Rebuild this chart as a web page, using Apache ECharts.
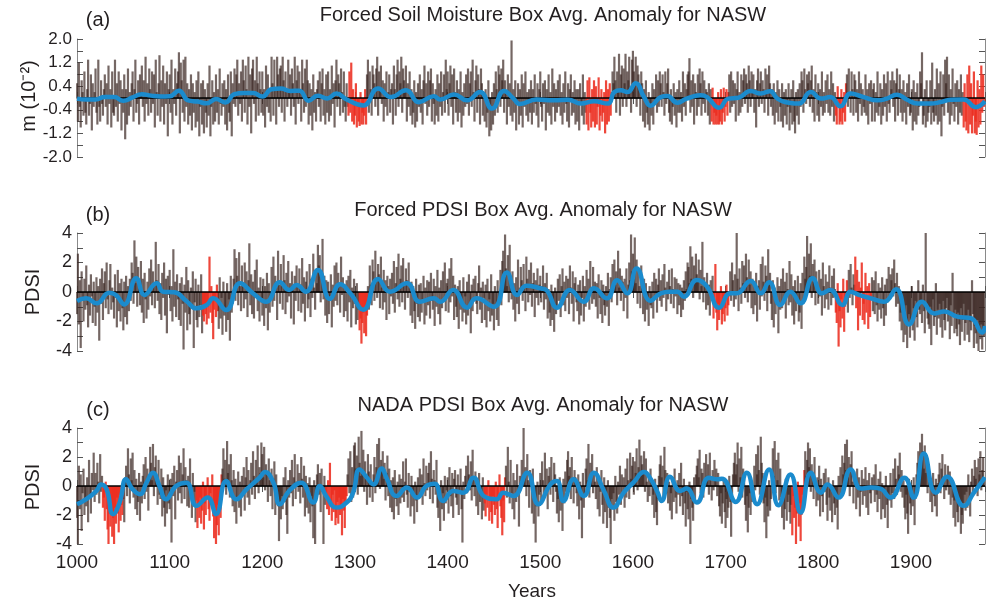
<!DOCTYPE html>
<html><head><meta charset="utf-8">
<script src="https://cdn.jsdelivr.net/npm/echarts@6/dist/echarts.min.js"></script>
<style>html,body{margin:0;padding:0;background:#fff}#c{width:986px;height:603px}</style>
</head><body><div id="c"></div>
<script>
const START_YEAR = 1000;
const END_YEAR = 1980;
const xTickLabels = [1000,1100,1200,1300,1400,1500,1600,1700,1800,1900];

// (a) Forced soil moisture anomaly, annual (10^-2 m)
const soilA = [
.5,-.8,1.2,-.3,-1.0,.6,.2,-.6,.9,-.5,
-.9,.3,1.3,-.6,-.2,.8,-1.1,.5,-.3,.2,
1.0,-.5,-.9,1.3,-.3,-.8,.6,-.2,-.6,.3,
.8,-.3,.5,-.9,1.1,-.2,.3,-1.0,.9,-.5,
-.6,1.3,-.3,.5,-.8,.9,-.2,.6,-1.1,.3,
-.5,.8,-1.4,.3,-.9,1.0,-.6,.2,-.3,.5,
.9,-.8,.3,1.3,-.5,-.2,.6,-.9,.8,.2,
1.1,-.3,.6,-.8,1.4,-.2,.5,-.6,1.0,.3,
-.5,.9,-.2,.8,-1.0,1.3,.2,-.6,.5,1.45,
-.8,.6,-.3,1.1,-.9,.5,-.2,.9,-1.3,.3,
.8,-.5,1.3,-.9,.3,-.2,1.0,-.6,.5,.9,
1.55,-1.2,1.2,.6,-.5,1.3,-.8,1.4,-.3,.5,
-.9,.3,-.6,.8,-1.1,.5,-.5,.2,-1.0,.6,
-.8,.9,-1.3,-.3,.5,-.9,.6,-1.2,.3,-.5,
-1.0,.5,-.6,1.1,-1.3,-.3,.6,-.9,.2,-.8,
.8,-.5,.3,-.9,1.0,-.2,-.6,.5,-.3,.6,
-.9,.3,-1.1,.8,-.5,-.8,.9,-1.3,.5,-.2,
1.0,-.3,.8,1.3,-.6,.5,-.2,.9,-.8,1.3,
.6,-.5,1.1,.3,-.9,1.4,-.3,.8,-1.2,1.0,
1.3,-.2,.6,-.8,1.4,.5,-.6,.9,.3,-.5,
.9,-.6,.3,-1.0,1.1,-.3,.8,-.5,.2,-.8,
1.4,.5,-.6,1.3,.3,-.9,1.4,.8,-.3,1.0,
1.1,-.5,1.4,.6,-.8,.9,.3,-.3,1.3,.2,
.8,-.6,1.0,.5,-.3,1.4,-.9,.6,1.1,-.2,
.9,.3,-.8,1.3,.5,-.5,1.0,-.3,1.3,.6,
-.9,.5,-.6,.3,-1.1,.8,-.5,.2,-.8,.3,
.6,-.3,.9,-.8,.5,1.0,-.6,.3,-.9,.8,
-.5,.9,-.8,.3,-.6,1.1,-.2,.5,-1.0,.6,
1.3,-.3,.8,.5,-.6,1.0,.2,-.5,.9,-.3,
-.8,.5,-.3,-.6,.9,-.5,1.2,-.8,.3,-.9,
-.6,.5,-1.0,-.3,-.8,-.95,.2,-.9,-.5,-.9,
-.6,.3,-.9,.8,1.3,-.5,.9,.3,-.6,1.1,
.8,.5,-.3,1.0,1.4,-.6,.9,.3,1.1,-.2,
.6,-.8,.5,-.3,.9,-.6,.2,.8,-.5,.3,
.5,-.9,1.1,.3,-.6,.8,1.3,-.3,.9,.5,
1.4,-.5,1.0,.6,.3,1.1,-.8,.5,-.3,.9,
-.6,.3,-.9,-.5,.6,-1.0,.2,-.8,.5,-.3,
.8,-.5,.3,-.9,.6,1.1,-.2,.5,-.6,.9,
-.3,.6,1.0,-.8,.5,-.2,-.9,.3,-.6,.8,
-.8,.5,-.3,.9,-.6,.2,.8,-.5,1.3,.3,
.9,-.6,.5,1.1,-.3,.8,-.9,1.0,.2,-.5,
.6,-.8,.3,-.5,.9,-1.0,.2,-.6,.5,-.3,
.8,-.2,1.0,-.6,.5,.9,-.3,1.3,.2,-.8,
.6,1.1,-.5,.8,.3,-.9,1.0,.5,-.6,.2,
-.8,.3,-1.0,-.5,.6,-1.3,-.3,-1.1,.2,-.9,
.5,-.6,.9,.3,-.5,1.1,.8,-.3,1.0,.6,
1.3,-.5,.6,.2,-.9,.8,-.3,.5,-.6,1.95,
-.8,.3,-.5,.6,-1.1,-.2,.5,-.9,.3,-.6,
.8,-1.0,.5,-.3,.9,-.6,.2,-.8,.3,-.5,
.6,-.9,.3,-.5,.8,-.2,-.6,.5,-1.0,.3,
.9,-.3,-.8,.5,-.2,.6,-1.1,.3,-.5,.8,
-.6,.2,-.9,1.0,-.3,.5,-.8,.3,-.5,.6,
-.3,.8,-.6,.2,-.9,.5,-.5,.9,-.2,-.8,
.5,-1.0,.3,.8,-.6,.2,-.5,.6,-.9,.3,
-.8,.3,-1.1,.5,-.2,-.6,.8,-.9,.2,-.5,
-.9,.6,-1.1,.7,-.5,-1.0,.3,-.8,.6,-1.0,
.4,-.9,-.3,.7,-1.1,-.6,.3,-.8,-.5,.2,
-1.2,.6,-.9,.3,-.8,.5,-.6,.2,.9,.5,
1.4,.6,-.5,.9,.3,1.5,-.6,.8,1.1,-.3,
1.0,.5,1.5,-.3,.9,.6,1.4,.3,-.5,1.3,
1.6,.9,.5,1.4,-.3,1.1,.8,.3,-.6,.9,
.5,-.8,.3,-1.0,.6,-.5,-.9,.2,-1.1,-.3,
-.6,.5,-.9,.3,-.2,.8,-.5,.6,-.3,.9,
.5,-.3,.8,.2,-.6,.9,-.2,.5,1.0,-.5,
-.8,.3,-.9,-.3,.5,-.6,.2,-1.0,.3,-.5,
.6,-.5,.2,-.8,.9,-.3,.5,-.6,.3,.8,
.9,1.35,-.5,.6,-.3,.8,-.9,.5,.2,-.6,
.8,-.3,1.0,.5,-.6,.9,-.2,.6,-.5,.3,
.2,-.6,.5,-.9,.3,-.8,.35,-.9,-.5,-.9,
-.6,-.9,.2,-.9,-.8,.3,-.9,-.5,.35,-.8,
-.3,.3,-.6,.2,.8,-.5,.9,-.3,.6,-.2,
.5,-.8,.3,.9,-.6,.2,-.5,.8,-.3,.6,
1.0,-.2,.8,.5,-.5,1.1,.6,-.3,.9,.3,
.8,-.5,.3,-1.0,.6,1.0,-.3,.5,.9,-.2,
.6,.3,-.5,1.0,.2,.8,-.6,1.1,.5,-.3,
.3,-.6,.5,-.9,.2,-.5,.6,-.8,.3,-.3,
-.8,.5,-1.0,.2,-.6,.3,-.9,-.3,.5,-1.1,
-.5,.3,-.9,.6,-.8,-1.2,.2,-.6,.3,-.9,
.5,-.3,.9,.6,-.5,1.0,.3,-.2,.8,.5,
.9,-.3,.6,1.1,-.5,.3,-.8,.8,.2,-.6,
.5,-.8,.3,-.3,.9,-.6,.2,-.5,.6,-.2,
.8,-.5,.3,-.6,.9,-.3,.5,-.8,.2,-.6,
-.9,.4,-.3,-.9,-.8,.3,-.9,-.5,.2,-.8,
.5,.8,-.3,1.0,.2,-.5,.9,.3,-.6,.8,
.6,-.5,.3,-.8,.9,-.2,.5,-.6,.3,-.3,
-.5,.8,-.6,.3,-.9,.5,-.2,.6,-.8,.3,
.5,-.8,.2,-.5,.9,-.6,-.3,.5,-.9,.3,
-.6,.8,-.3,.5,-.8,.9,-.2,-.5,.6,.3,
.9,-.3,.6,-.8,.5,1.0,-.6,.3,.8,-.5,
.3,-.8,.6,-.5,.2,-.9,.5,-.3,.8,-.6,
-.5,.3,-1.1,.6,-.8,.2,-.9,.5,-.6,-.3,
.9,.5,1.55,-.9,-.6,.3,-1.0,.6,-.8,-.5,
-.3,.6,-.9,1.2,-.5,-.8,.3,-.6,1.0,-.9,
.5,-.8,.9,-1.3,-.3,.8,-.6,1.3,.5,1.4,
-.5,.8,-.9,.3,-.6,1.0,-.2,-.8,.5,-.3,
.6,-.9,.3,-.5,.8,-.6,.2,-1.0,.5,-.8,
-1.1,.8,-1.2,1.1,-.9,.5,-1.2,-.6,.9,-1.2,
-.8,-1.25,.6,-1.0,.3,-.9,1.1,-.5,.8,-.3
];

// (b) Forced PDSI anomaly, annual
const pdsiB = [
-1.5,2.6,-2.2,.8,-3.8,1.4,-.6,-2.0,.9,-1.2,
1.8,-.9,-2.4,.5,-1.6,1.2,-.3,-2.1,.7,-1.0,
-2.3,1.0,-1.4,.4,-3.3,.9,-.8,1.6,-1.9,.6,
1.4,-1.1,2.0,-.5,-1.5,.8,1.9,-1.2,.3,-.7,
-1.8,1.2,-.4,-2.4,1.5,-1.3,.6,-2.0,.9,-1.1,
-2.6,.7,-1.7,1.1,-2.2,.4,-1.3,.9,-.6,2.0,
1.3,-.8,3.5,.6,2.4,-1.0,1.7,.3,-.9,2.1,
-1.4,.9,-2.1,1.3,-.5,-1.8,.7,-1.2,1.6,-.3,
2.2,-.9,1.4,.5,-1.1,3.4,.8,-.6,1.9,-1.5,
.6,-1.9,1.3,-.4,2.0,-1.6,.9,-2.8,1.1,-.2,
1.5,-1.3,.4,-2.0,2.9,-1.0,.7,-1.7,1.2,-.5,
-1.9,.6,-2.3,1.0,-.8,-3.9,.5,-1.4,1.7,-2.6,
.8,-1.5,-2.2,.3,-1.1,1.4,-3.8,-.7,.9,-1.9,
-2.4,.5,-1.7,-.9,1.2,-2.8,-1.6,-2.0,-.8,-1.5,
-2.2,-1.0,-1.8,2.4,-1.4,.4,-2.1,-3.2,-1.2,-.6,
-1.7,.5,-1.3,-2.5,1.0,-1.8,-.4,-2.9,.7,-1.6,
-1.2,-2.7,.6,-1.9,-.5,-3.3,1.1,-1.4,-.8,.9,
2.9,-.6,2.3,1.1,-.9,2.7,.4,-1.3,1.8,.6,
-1.1,2.0,-.5,1.4,-1.7,.8,3.3,-.9,1.2,-1.5,
.7,-1.8,1.5,-.4,2.2,-1.3,.3,-2.0,1.0,-.7,
-1.6,.9,-2.3,.4,-1.1,1.3,-2.6,.6,-1.4,-.3,
1.7,-1.0,2.4,-.6,1.1,.3,-1.9,2.8,.5,-.8,
1.9,.4,-1.2,2.5,.8,-1.5,1.3,-.7,2.1,-.3,
.6,-1.8,1.4,.2,-2.2,1.1,-.6,1.8,.4,-1.3,
1.6,.5,-1.4,2.3,-.8,1.0,-2.0,.7,1.4,-1.1,
-.5,1.9,-1.7,.9,-.4,2.6,.3,-1.2,1.5,.6,
3.2,1.8,2.5,-.7,1.4,3.6,-.5,1.1,-1.6,.8,
-2.1,.7,-1.5,-.3,1.2,-2.4,.5,-1.0,1.8,-.6,
2.0,-.9,1.3,.6,-1.4,2.4,-.2,1.0,-1.7,.5,
-1.3,.8,-2.0,1.1,-.7,1.5,-2.4,.3,-1.1,.9,
-.8,-2.2,.6,-1.9,-1.2,-2.6,-1.8,-3.5,-2.1,-1.4,
-2.8,-1.0,-3.0,-1.6,.4,-1.2,1.8,.5,-.9,2.2,
1.4,-.6,2.8,.9,-.4,1.9,1.2,-1.1,2.4,.3,
-1.2,1.5,-.7,.8,-1.9,1.1,.4,-1.5,.9,-.3,
1.3,-.8,2.1,-1.4,.6,1.7,-.5,2.6,-1.0,.9,
1.8,-.7,2.3,.5,-1.2,1.6,.8,-.4,2.0,.3,
-1.6,.7,-2.1,.4,-1.3,-2.5,.9,-.8,-1.7,.5,
-2.0,.6,-1.4,-.5,1.1,-2.2,.3,-1.6,.8,-.9,
.7,-1.8,1.3,-.6,-1.2,.9,-2.3,.4,-1.0,1.5,
-1.5,.3,-2.2,.8,-1.1,1.4,-.4,2.0,-1.3,.6,
.9,-1.4,1.6,-.7,2.3,-.3,1.1,-1.9,.5,-1.0,
-1.7,.4,-2.5,.8,-1.2,-.6,-2.0,1.0,-1.4,-.3,
-2.2,.7,-1.6,1.2,-.9,-2.8,.5,-1.3,.9,-.6,
1.1,-.8,-1.5,.6,1.8,-1.2,.3,-2.1,.7,-.4,
-1.9,.5,-2.4,.9,-1.3,-.5,-2.0,1.2,-1.6,-.8,
-2.6,.4,-1.1,-1.9,.8,-2.3,-.6,1.5,-.9,2.1,
2.8,.9,3.9,1.6,.4,2.5,-.7,3.2,1.1,-.5,
1.4,-1.2,.6,-2.0,1.0,-.8,2.2,-1.5,.3,1.7,
.8,-.6,1.9,.4,-1.3,2.4,.9,-.7,1.5,-.2,
2.0,-1.0,.6,1.3,-1.7,.8,-.4,1.6,-.9,.5,
1.1,-.7,.4,1.8,-1.2,.6,-.5,1.3,-1.8,.2,
-1.4,-2.3,.5,-1.9,-.8,-2.7,.3,-1.5,-1.0,.9,
-.6,1.2,-1.7,.4,1.6,-.9,.7,-1.3,1.1,-.4,
.9,-1.5,1.8,.3,-.8,1.4,-2.0,.6,1.0,-.7,
-1.3,.5,-2.2,.8,-1.6,-.4,1.1,-2.0,.4,-1.0,
1.5,-.6,.9,-1.2,2.1,.3,-.8,1.7,-.5,.7,
-1.0,.6,-1.8,1.2,-.4,-1.5,.8,-2.1,.5,-.9,
-1.6,.4,-1.0,1.3,-2.3,.2,1.0,-.7,1.9,.6,
2.2,.5,1.4,-.9,2.8,.3,1.6,-.6,1.1,.7,
-1.3,.9,-.4,1.6,-1.8,.5,2.0,.8,3.9,1.4,
2.6,1.1,3.7,.6,2.2,-.8,1.5,.4,-1.1,1.8,
.3,-1.5,.9,-2.0,.6,-1.2,-.5,-2.3,.4,-.9,
-1.1,.7,-1.8,1.3,-.3,.9,-1.4,.5,1.6,-.6,
.8,-1.0,1.2,-.4,1.9,.3,-1.3,.7,-.5,1.5,
.4,-.8,1.6,.2,-1.1,1.0,-.3,.9,-1.5,.6,
-.9,.5,-1.7,.3,-1.2,.8,-.6,1.4,.2,2.0,
1.7,.6,3.1,.9,2.4,-.4,1.8,.7,2.6,1.2,
.8,2.2,-.5,1.5,.4,3.4,-.7,1.0,.6,-1.2,
1.3,-.9,.5,-1.6,.8,-.4,1.1,-1.8,-.6,1.9,
-1.4,-2.6,-.8,-1.9,-1.2,.4,-2.2,-1.5,-.7,-2.0,
-1.1,.5,-1.6,-.9,-.3,1.4,-.6,2.0,.8,-1.0,
1.2,-.5,4.0,.9,-1.3,1.6,.3,-.8,2.1,.6,
1.8,-.4,2.6,1.0,-.7,2.2,.5,1.4,-1.1,.9,
-1.5,.6,-.9,1.3,-2.0,.4,.8,-1.2,1.9,-.3,
2.4,.7,-.6,1.8,1.1,-1.3,2.9,.5,1.3,-.8,
-1.9,.8,-2.4,.3,-1.5,-.6,1.0,-2.8,.4,-1.2,
.9,-1.1,1.6,-.5,.7,-1.8,1.3,.2,-.9,2.1,
-.7,1.2,-1.6,.4,-2.2,.8,-1.3,-.5,1.1,-2.0,
-1.4,.6,-2.5,1.3,-.8,2.4,.9,1.7,3.8,.5,
2.6,1.1,3.3,-.4,1.9,.7,2.2,-.9,1.4,.3,
-.8,1.5,-.3,.9,-1.6,2.0,.4,-1.1,1.2,-.5,
.7,-1.2,1.8,.3,-.9,1.1,-.4,1.6,.2,-1.4,
-2.1,.6,-3.7,-1.3,-2.4,-.5,-1.8,.9,-2.7,-1.0,
-.6,.8,-1.4,1.5,-.4,1.9,.3,-.9,1.2,.5,
2.4,-1.1,1.5,-2.6,.7,-1.6,.3,2.0,-1.9,-.8,
-2.2,1.3,-1.4,.4,-2.5,.6,-1.7,-.5,1.0,-1.3,
.8,-1.5,1.4,-.9,-2.0,.6,-1.2,.3,-1.8,1.0,
-1.1,-2.3,.5,-1.6,.9,-.7,1.7,-.4,1.2,.8,
1.6,-.3,2.2,.6,-1.0,1.3,-.8,.4,-2.0,-1.4,
-2.6,-1.2,-3.4,-1.8,-2.9,-.9,-3.8,-2.3,-1.5,-3.1,
-1.9,.4,-2.6,-1.1,-3.3,-.6,-1.7,-2.4,.8,-1.2,
-1.5,-.7,-2.1,.5,-1.3,-2.8,4.0,-.9,-1.8,-2.2,
-2.5,-1.0,-3.6,-1.4,-.5,-2.3,-1.7,.6,-2.9,-1.2,
-1.8,-.8,-2.4,-1.3,-3.1,-.6,-1.9,-2.6,-1.1,-.4,
-2.0,-1.5,-3.2,-.9,-2.3,1.3,-1.6,-2.8,-1.2,-2.5,
-3.0,-1.4,-2.2,-3.6,-1.1,-2.7,-1.9,-.8,-3.3,-2.1,
-1.6,-2.9,-1.2,-3.4,-2.0,-2.6,.8,-1.5,-3.8,-2.3,
-2.8,-3.5,-1.9,-4.0,-2.6,-3.2,-2.2,-3.9,-2.5,-3.0
];

// (c) NADA PDSI anomaly, annual
const nadaC = [
-2.2,-4.0,1.4,-1.6,.8,-3.1,-.5,1.2,-2.0,-.9,
-1.4,.6,-2.5,1.8,-.7,-1.9,.9,-.3,2.3,-1.1,
.9,-.6,1.6,.3,-1.2,2.2,-.4,.7,-1.5,-.8,
-2.4,.3,-1.6,-3.0,-4.0,-1.9,-2.8,-1.2,-3.5,-2.2,
-4.0,-1.5,-2.6,-.8,-1.9,-3.2,-.6,-2.4,-1.3,-2.0,
-.9,-2.5,.6,1.4,-.7,2.6,.8,-1.2,1.9,.4,
2.3,-.8,1.1,-1.6,.5,-2.0,-1.1,.9,-2.4,.3,
-1.2,.7,1.5,-.9,2.0,-.4,1.2,-1.7,.6,2.7,
1.6,.4,2.9,-.7,1.3,2.1,.5,-1.3,1.8,-.6,
-.9,1.2,-2.1,.6,-1.5,-2.8,-.3,-1.9,.8,-1.2,
-1.6,.5,-3.9,.9,-.7,1.4,-2.3,.3,1.1,-1.0,
2.1,-.5,1.6,-1.2,.8,2.6,-.9,1.3,.4,-1.4,
.7,-1.5,1.9,-.6,-2.2,.9,-1.3,-.4,-2.5,-1.0,
-2.9,-1.4,-2.2,-.8,-2.6,-1.7,.3,-3.0,-1.2,-2.0,
-.9,.6,-1.6,-2.4,-.5,-1.2,.8,-2.1,-3.6,-1.5,
-4.0,-2.7,-1.3,-3.4,-.7,-2.2,.8,1.2,2.6,.5,
1.8,-.6,3.1,.9,1.5,-.8,2.2,.4,-1.4,1.1,
-1.8,.5,-2.6,-.9,1.0,-1.5,.3,-2.1,.7,-.5,
1.3,-1.7,.6,2.0,-.8,1.1,-1.3,.4,1.6,-.6,
2.4,.7,-.9,1.8,.3,2.8,-.5,1.3,.9,3.0,
2.2,.6,2.7,-.3,1.5,.9,-1.1,1.9,.4,-.7,
1.2,-1.6,.5,1.7,-2.0,.8,-.6,-1.4,-3.8,-1.1,
-2.3,-.7,-1.6,.6,-1.1,1.3,-2.0,-3.3,.4,-.8,
1.1,-.5,1.8,-1.4,.6,2.2,-.9,.3,1.5,-.4,
.9,-1.2,2.0,.5,-.8,1.4,-2.1,.7,-1.5,.2,
-1.9,.6,-2.5,-.7,-1.4,-3.6,.4,-4.0,-1.0,.8,
1.5,-.6,.9,-1.8,1.2,-.4,-4.0,.7,-1.3,-.9,
-1.6,.4,-2.0,1.6,-1.2,-2.4,-.6,-1.8,-.3,-2.7,
-2.2,-1.1,-2.6,-.8,-2.0,-1.5,-3.4,-.9,-1.7,-2.9,
-1.3,-.7,.8,1.9,-.5,2.4,-1.1,1.3,-.8,2.8,
3.0,1.2,2.1,-.6,3.4,1.6,.7,3.8,.9,2.5,
-.4,1.7,.6,-1.3,2.2,1.0,-.8,1.5,.3,-1.1,
.8,2.0,-.5,1.3,2.9,.7,3.3,-.2,1.8,1.1,
2.4,.5,1.6,-1.0,.9,2.1,-.7,1.2,-1.5,.4,
-1.8,.6,-2.3,1.1,-.9,-1.4,.3,-2.0,.8,-1.2,
.5,-.8,1.7,-1.1,.3,1.9,-.6,-1.5,.9,-.4,
-2.1,.7,-1.4,-.5,-2.6,.3,-1.0,-1.8,.6,-.9,
1.2,-.4,.8,-1.3,1.9,.2,-.7,1.4,-.3,.9,
1.6,-.9,2.4,.5,-1.2,1.1,.4,-.6,1.8,-1.5,
-2.2,-.8,-3.1,.4,-1.6,-.5,-2.4,.7,-1.2,-.3,
.6,-1.9,1.3,-.7,-1.4,.9,-2.2,.5,1.1,-.8,
-1.3,.8,-2.0,-.4,1.2,-1.6,-3.9,.3,-.9,.7,
1.4,-.5,2.1,.8,-.3,1.7,-1.0,2.5,.6,-.7,
1.0,-1.4,.5,-2.0,.9,-1.1,-.4,-2.3,.6,-1.7,
-1.2,-2.1,-.6,-1.5,.4,-2.4,-1.0,-1.8,-2.6,-.7,
-1.3,-2.0,.3,-1.6,-2.9,-.9,.8,-1.4,-2.2,-3.4,
-1.0,-2.5,.6,1.4,-.8,2.7,.3,-1.2,1.8,-.5,
-1.6,.9,-2.3,.4,-1.1,1.5,-.6,-2.8,.7,-.3,
1.8,.6,4.0,.9,1.3,-.7,2.2,.4,-1.5,1.1,
.5,-1.9,1.2,-2.6,-.8,-3.9,-1.4,.3,-2.1,-.6,
.9,-1.3,1.7,.4,-.8,2.3,-.5,1.2,-1.6,.7,
1.3,-.6,2.0,.3,-1.1,1.6,.8,-.4,-1.9,-.9,
-2.5,.6,-1.7,-.8,-3.1,.5,-1.2,1.0,-.4,1.8,
2.4,.7,1.3,-.9,2.0,.4,-1.2,1.1,.6,-.5,
-1.4,.8,-2.3,.3,-1.0,-3.6,.9,-1.5,-.6,1.2,
1.9,.4,2.9,-.8,1.6,.7,2.2,-.5,1.0,.3,
-.9,1.3,-1.6,.5,-2.1,-.4,1.1,-1.3,-2.6,.6,
-1.8,-.7,-2.9,.4,-1.5,-2.2,-4.0,-.9,-1.6,-.5,
-2.4,.7,-1.1,-1.9,.3,-.6,1.4,-1.3,.8,-.4,
.6,-1.5,1.2,-.8,1.9,.4,-.9,2.3,.5,1.4,
2.0,-.6,1.7,.9,2.6,-.3,1.3,3.2,.7,2.1,
1.5,.8,2.4,-.4,1.9,.3,-1.1,.6,-.7,1.2,
.4,-1.3,-.6,-2.2,.5,-1.8,-2.7,-.9,.7,1.5,
2.1,.6,1.4,-.8,2.7,1.1,-.5,.9,-1.2,.3,
-1.7,-.5,-2.3,.6,-1.1,1.2,-.8,-1.9,.4,-.6,
.9,-1.4,1.6,-.7,-2.0,.5,-1.2,-2.8,-.4,-1.6,
-2.3,.3,-4.0,-.9,-1.5,-2.4,.6,-1.1,.8,1.4,
1.9,.6,2.5,-.5,1.2,.9,-.8,1.6,.3,2.2,
.7,1.5,-.6,2.3,.4,-1.0,1.1,-.3,1.8,.6,
1.2,-.7,.9,-1.4,-2.1,-.5,-2.6,-1.2,.4,-1.8,
-2.9,-.9,-2.2,-1.5,.7,-1.1,-3.5,-.6,.8,1.6,
2.3,.8,1.5,3.0,-.4,1.9,.6,2.7,-.8,1.2,
.5,-1.3,-2.4,-.7,-3.2,-1.5,-.5,-2.0,.3,-1.1,
-.6,1.4,-.3,2.2,.8,2.8,1.1,-.6,3.4,1.6,
.9,-1.2,-2.5,-.8,-3.6,-1.4,-2.1,.4,-1.7,-.9,
1.0,2.6,.7,3.1,-.5,1.8,.4,2.3,-1.0,1.2,
-.8,-2.2,-.4,-3.0,-1.6,.5,-2.4,-1.1,-.6,-1.8,
-2.6,-1.3,-3.4,-.7,-2.2,-1.5,-4.0,-1.9,.3,-2.8,
-1.2,-3.8,-2.0,-.6,-1.6,1.1,2.4,.7,1.8,3.0,
1.3,2.6,-.4,1.5,.8,-.9,2.0,.3,-1.4,.6,
-1.0,1.4,-2.1,.5,-.7,-1.8,.9,-.4,1.2,-1.3,
-2.4,.6,-.8,-1.7,-.3,-2.5,.4,-1.2,-2.0,-.6,
-1.5,-3.0,.7,-.9,1.3,-.5,2.1,.8,1.6,2.9,
1.1,3.2,.6,2.0,-.7,1.5,2.4,.3,-1.2,1.0,
.4,-1.6,1.2,-.8,.6,-2.1,-.4,1.1,-1.3,.5,
-.7,1.3,-1.5,.4,-2.0,.9,-.5,-1.2,.6,-.3,
.8,-1.1,1.5,-.6,-1.8,.5,-.9,1.0,-2.3,.2,
-1.6,-.4,-2.2,.7,-1.3,-2.9,-.6,-1.0,.9,-1.5,
-.5,1.2,-.9,1.9,.5,-.6,1.4,.8,2.3,-.4,
1.1,-.8,.4,-1.5,-2.3,-.6,-1.9,-3.3,.5,-1.2,
-2.0,-.7,-1.4,.6,-2.7,-.9,.8,1.6,2.4,1.0,
3.0,1.9,3.6,2.4,1.2,2.8,.9,1.7,-.5,1.3,
.6,-1.1,.3,-1.8,.9,-.7,-1.4,.5,-2.1,.2,
.8,1.6,-.5,1.2,2.2,.4,-.9,1.5,-.3,.7,
1.4,-.6,1.0,-1.3,.5,-.8,-2.2,-1.0,-2.8,-.5,
-1.8,-2.5,-.9,-1.4,-3.3,-2.0,-2.6,-1.2,-.6,-1.7,
-.4,-1.5,.8,-.9,-2.1,.3,1.2,-.6,.7,1.8,
.5,1.3,-.7,1.9,.8,2.4,-.3,1.1,2.0,.6
];

// Smoothed curves
const smoothYearsA = [1000,1010,1020,1030,1040,1050,1060,1070,1080,1090,1100,1110,1120,1130,1140,1150,1160,1170,1180,1190,1200,1210,1220,1230,1240,1250,1260,1270,1280,1291,1309,1325,1339,1355,1369,1385,1392,1407,1421,1435,1448,1461,1471,1478,1496,1515,1530,1544,1558,1573,1580,1587,1594,1603,1612,1619,1630,1637,1648,1658,1673,1680,1693,1703,1714,1727,1738,1748,1756,1770,1779,1792,1803,1813,1824,1835,1849,1864,1874,1885,1896,1907,1921,1932,1943,1957,1970,1980];
const smoothA = [-0.02,-0.05,-0.05,0.03,0.03,-0.09,0.02,0.13,0.08,0.05,0.06,0.25,-0.08,-0.12,-0.18,-0.03,-0.15,0.13,0.17,0.17,0.05,0.3,0.32,0.24,0.25,-0.09,0.08,-0.02,0.15,-0.05,-0.25,0.32,0.03,0.26,-0.14,0.06,-0.05,0.12,-0.08,0.2,-0.36,0.24,-0.02,-0.2,-0.05,-0.08,-0.06,-0.19,-0.11,-0.19,0.2,0.26,0.2,0.5,0.03,-0.26,0.03,0.07,-0.16,-0.02,0.09,0.03,-0.33,-0.02,0.01,0.24,0.15,0.23,-0.02,-0.17,-0.19,0.2,-0.02,0.03,-0.28,0.15,0.03,-0.08,-0.02,0.11,-0.06,-0.19,-0.19,-0.14,-0.06,-0.05,-0.31,-0.11];

const smoothYearsB = [1000,1010,1021,1035,1042,1051,1064,1073,1086,1093,1105,1118,1129,1140,1147,1161,1176,1190,1204,1219,1229,1237,1247,1260,1273,1284,1295,1309,1325,1338,1356,1370,1385,1392,1406,1421,1431,1450,1464,1475,1485,1500,1507,1518,1532,1547,1558,1572,1583,1594,1604,1619,1630,1640,1648,1655,1669,1680,1693,1705,1712,1727,1738,1747,1759,1770,1781,1794,1804,1813,1826,1835,1844,1857,1871,1884,1898,1912,1925,1936,1950,1965,1977,1980];
const smoothB = [-0.61,-0.43,-0.77,-0.05,-0.2,-0.84,0.93,-0.2,0.59,0.02,-0.02,-0.61,-1.11,-0.88,-0.43,-1.22,0.59,-0.09,-0.66,0.66,0.14,0.47,0.02,1.5,-0.47,0.52,-0.09,-1.2,0.88,0.02,0.59,-0.66,-0.43,-0.66,0.14,-1.06,-0.43,-1.0,1.33,-0.2,0.43,0.25,0.1,-1.06,0.14,-0.66,0.25,-0.43,0.8,-0.09,1.6,-0.6,-0.09,0.02,0.02,-0.32,0.81,0.36,-1.06,-0.09,-0.09,0.75,-0.09,0.66,-0.88,0.02,-0.77,0.93,-0.09,0.14,-0.88,0.02,-0.2,-0.43,-0.66,0.18,-2.2,-0.66,-1.45,-1.33,-1.67,-1.78,-2.75,-2.3];

const smoothYearsC = [1000,1010,1021,1026,1032,1039,1046,1053,1060,1068,1075,1082,1089,1096,1107,1118,1129,1141,1150,1161,1172,1183,1197,1203,1212,1219,1229,1242,1255,1262,1269,1280,1291,1298,1305,1313,1320,1329,1334,1345,1356,1367,1377,1386,1395,1406,1417,1428,1439,1453,1460,1471,1486,1498,1511,1518,1525,1536,1547,1558,1568,1579,1590,1601,1612,1619,1626,1631,1640,1651,1658,1669,1682,1691,1696,1711,1723,1734,1747,1757,1770,1781,1792,1803,1810,1822,1835,1846,1857,1867,1878,1893,1903,1914,1927,1939,1957,1968,1980];
const smoothC = [-1.26,-0.91,-0.34,0.11,-0.23,-1.94,-1.14,0.46,-0.23,-0.57,0.23,0.91,0,-0.91,0,0.23,-1.37,-0.8,-1.94,0.34,-0.91,-0.23,0.57,0.96,0.23,-1.26,-0.34,0.23,-1.14,0,-0.69,-1.49,-1.14,-0.46,1.14,0.57,0.11,1.2,0.57,-0.69,-0.11,-0.8,0,0.16,-1.03,-0.34,-0.46,0.57,-0.69,-0.91,-0.46,-0.69,0.91,-1.26,0.11,0.34,-1.03,0.46,-0.69,0.91,-0.23,-1.49,-0.46,0.27,0.96,0.5,-0.34,-1.03,0.64,-0.34,-0.18,-1.14,0.57,0.46,0.5,-1.1,0.91,-1.26,1.14,-1.33,0.8,-1.83,0.91,-0.46,0.11,-0.8,1.14,-0.18,-0.11,-0.18,-0.8,0.57,-0.8,2.24,-0.46,0.64,-1.37,-0.46,0.6];

// Drought periods drawn in red (inclusive year ranges)
const redA = [[1293,1312],[1550,1577],[1685,1703],[1819,1830],[1957,1979]];
const redB = [[1136,1152],[1305,1313],[1687,1704],[1819,1831],[1840,1857]];
const redC = [[1028,1050],[1129,1156],[1269,1291],[1440,1462],[1772,1785]];

const titles = ['Forced Soil Moisture Box Avg. Anomaly for NASW','Forced PDSI Box Avg. Anomaly for NASW','NADA PDSI Box Avg. Anomaly for NASW'];
const panelTags = ['(a)','(b)','(c)'];

const BROWN = 'rgba(58,38,34,0.7)', RED = 'rgba(236,45,32,0.88)', BLUE = '#1b8bcd', FRAME = '#8a8a8a', TXT = '#231f20';
const FONT = 'Liberation Sans, Arial, sans-serif';

const chart = echarts.init(document.getElementById('c'), null, {renderer:'canvas'});

const grids = [
  {left:77, right:1, top:39, height:118},
  {left:77, right:1, top:233, height:118},
  {left:77, right:1, top:428, height:116}
];
const yCfg = [
  {min:-2.0, max:2.0, interval:0.4, fmt:(v,i)=> i%2===0 ? v.toFixed(1) : ''},
  {min:-4, max:4, interval:1, fmt:(v,i)=> i%2===0 ? String(Math.round(v)) : ''},
  {min:-4, max:4, interval:1, fmt:(v,i)=> i%2===0 ? String(Math.round(v)) : ''}
];
const barsData = [soilA, pdsiB, nadaC];
const smoothData = [[smoothYearsA, smoothA],[smoothYearsB, smoothB],[smoothYearsC, smoothC]];
const reds = [redA, redB, redC];

function inRed(ranges, y){ return ranges.some(r => y >= r[0] && y <= r[1]); }

const xAxis = [], yAxis = [], series = [];
const tickStyle = {show:true, inside:true, length:6, lineStyle:{color:'#555', width:1}};
grids.forEach((g, i) => {
  const common = {type:'value', gridIndex:i, min:START_YEAR, max:END_YEAR, interval:100,
    splitLine:{show:false}, axisLine:{show:true, lineStyle:{color:FRAME, width:1}}, axisTick:tickStyle};
  xAxis.push(Object.assign({}, common, {position:'bottom',
    axisLabel:{show:i===2, margin:9, fontSize:19, color:TXT, fontFamily:FONT, showMaxLabel:false,
      formatter: v => xTickLabels.indexOf(v) >= 0 ? String(v) : ''}}));
  xAxis.push(Object.assign({}, common, {position:'top', axisLabel:{show:false}}));
  const yc = yCfg[i];
  const ycommon = {type:'value', gridIndex:i, min:yc.min, max:yc.max, interval:yc.interval,
    splitLine:{show:false}, axisLine:{show:true, lineStyle:{color:FRAME, width:1}}, axisTick:tickStyle};
  yAxis.push(Object.assign({}, ycommon, {position:'left',
    axisLabel:{show:true, margin:5, fontSize:i===0 ? 17 : 18, color:TXT, fontFamily:FONT, formatter:yc.fmt}}));
  yAxis.push(Object.assign({}, ycommon, {position:'right', axisLabel:{show:false}}));

  const vals = barsData[i], rr = reds[i];
  series.push({
    type:'bar', xAxisIndex:2*i, yAxisIndex:2*i, barWidth:2.2, z:2,
    data: vals.map((v,k) => [START_YEAR + k, v]),
    itemStyle:{color: p => inRed(rr, p.data[0]) ? RED : BROWN},
    markLine:{silent:true, symbol:['none','none'], label:{show:false},
      lineStyle:{color:'#000', width:1.5, type:'solid'}, data:[{yAxis:0}]},
    animation:false
  });
  const sy = smoothData[i][0], sv = smoothData[i][1];
  series.push({
    type:'line', xAxisIndex:2*i, yAxisIndex:2*i, z:5, smooth:0.5, showSymbol:false, symbol:'none',
    data: sy.map((y,k) => [y, sv[k]]),
    lineStyle:{color:BLUE, width:4.5}, animation:false
  });
});

const textStyle = (txt, x, y, size, rot) => ({type:'text', x, y, rotation: rot || 0,
  style:{text:txt, fill:TXT, font: size + 'px ' + FONT, textAlign:'center', textVerticalAlign:'middle'}});

const titleY = [15, 210, 405];
const tagY = [20, 215, 410];
const graphic = [];
titles.forEach((t,i) => {
  graphic.push(textStyle(t, 543, titleY[i], 20));
  graphic.push(textStyle(panelTags[i], 98, tagY[i], 20));
});
graphic.push(textStyle('m (10\u207B\u00B2)', 29, 96, 20, Math.PI/2));
graphic.push(textStyle('PDSI', 33, 292, 20, Math.PI/2));
graphic.push(textStyle('PDSI', 33, 487, 20, Math.PI/2));
graphic.push(textStyle('Years', 532, 592, 19));

chart.setOption({
  animation:false,
  backgroundColor:'#fff',
  grid: grids,
  xAxis, yAxis, series, graphic
});
</script>
</body></html>
